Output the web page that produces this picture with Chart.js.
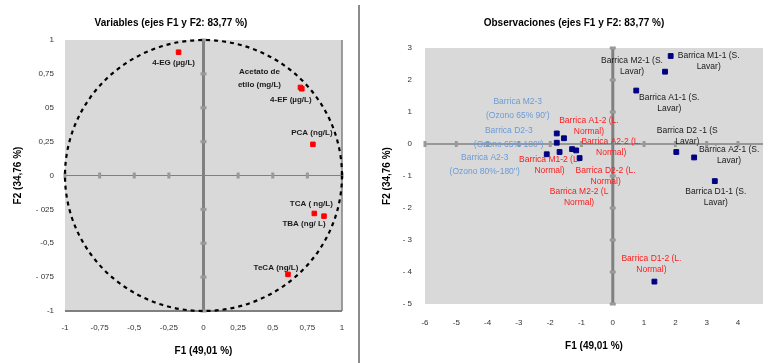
<!DOCTYPE html>
<html>
<head>
<meta charset="utf-8">
<script src="https://cdn.jsdelivr.net/npm/chart.js@4.4.1/dist/chart.umd.min.js"></script>
<style>
  body { margin: 0; background: #fff; width: 768px; height: 363px; overflow: hidden; position: relative; }
  .box { position: absolute; top: 0; height: 363px; }
  #leftBox { left: 0; width: 358px; }
  #rightBox { left: 380px; width: 388px; }
  #divider { position: absolute; left: 358px; top: 5px; width: 2px; height: 358px; background: #8c8c8c; }
</style>
</head>
<body>
<div id="leftBox" class="box"><canvas id="varChart"></canvas></div>
<div id="divider"></div>
<div id="rightBox" class="box"><canvas id="obsChart"></canvas></div>
<script>
// ----- DATA: variables (correlation circle) -----
const varNames = [['4-EG (µg/L)'], ['Acetato de', 'etilo (mg/L)'], ['4-EF (µg/L)'], ['PCA (ng/L)'],
  ['TCA ( ng/L)'], ['TBA (ng/ L)'], ['TeCA (ng/L)']];
const varF1 = [-0.18, 0.70, 0.71, 0.79, 0.80, 0.87, 0.61];
const varF2 = [0.91, 0.65, 0.64, 0.23, -0.28, -0.30, -0.73];
const varXTicks = ['-1', '-0,75', '-0,5', '-0,25', '0', '0,25', '0,5', '0,75', '1'];
const varYTicks = ['-1', '- 075', '-0,5', '- 025', '0', '0,25', '05', '0,75', '1'];

// ----- DATA: observations -----
const obsNames = [
  ['Barrica A1-1 (S.', 'Lavar)'], ['Barrica A2-1 (S.', 'Lavar)'], ['Barrica D1-1 (S.', 'Lavar)'],
  ['Barrica D2 -1 (S', 'Lavar)'], ['Barrica M1-1 (S.', 'Lavar)'], ['Barrica M2-1 (S.', 'Lavar)'],
  ['Barrica A1-2 (L.', 'Normal)'], ['Barrica A2-2 (L.', 'Normal)'], ['Barrica D1-2 (L.', 'Normal)'],
  ['Barrica D2-2 (L.', 'Normal)'], ['Barrica M1-2 (L.', 'Normal)'], ['Barrica M2-2 (L', 'Normal)'],
  ['Barrica A2-3', "(Ozono 80%-180'')"], ['Barrica D2-3', "(Ozono 65% 180'')"], ['Barrica M2-3', "(Ozono 65% 90')"]
];
const obsGroup = ['lavar', 'lavar', 'lavar', 'lavar', 'lavar', 'lavar',
  'normal', 'normal', 'normal', 'normal', 'normal', 'normal', 'ozono', 'ozono', 'ozono'];
const obsF1 = [0.75, 2.60, 3.26, 2.03, 1.85, 1.67, -1.56, -1.17, 1.33, -1.06, -1.70, -1.30, -2.11, -1.79, -1.79];
const obsF2 = [1.67, -0.42, -1.16, -0.25, 2.75, 2.26, 0.18, -0.20, -4.30, -0.44, -0.25, -0.16, -0.32, 0.04, 0.33];

// ----- LAYOUT (label offsets in px from the point, first line centre) -----
const varLabelOffsets = [[-5, 11], [-41, -16], [-11, 11], [-1, -12], [-3, -10], [-20, 8], [-12, -7]];
const obsLabelOffsets = [[33, 7], [35, -8], [1, 11], [11, -21], [38, 0], [-33, -11],
  [25, -18], [35, -9], [-3, -23], [26, 13], [-10, 8], [7, 43], [-62, 3], [-48, -12], [-39, -32]];
const groupColors = { lavar: '#1a1a1a', normal: '#ff1a1a', ozono: '#6a9bd8' };
const groupLineGap = { lavar: 11, normal: 11, ozono: 14 };

const FONT = '"Liberation Sans", Arial, sans-serif';

// background, zero axes, circle and point labels
const pcaDecor = {
  id: 'pcaDecor',
  beforeDraw(chart, args, opts) {
    const { ctx, chartArea: a } = chart;
    ctx.save();
    ctx.fillStyle = '#d9d9d9';
    ctx.fillRect(a.left, a.top, a.right - a.left, a.bottom - a.top);
    ctx.restore();
  },
  beforeDatasetsDraw(chart, args, opts) {
    const { ctx, chartArea: a, scales: { x, y } } = chart;
    const x0 = x.getPixelForValue(0), y0 = y.getPixelForValue(0);
    ctx.save();
    ctx.strokeStyle = '#808080';
    if (opts.frame) {
      ctx.lineWidth = 2;
      ctx.beginPath(); ctx.moveTo(a.left, a.bottom); ctx.lineTo(a.right, a.bottom); ctx.stroke();
      ctx.lineWidth = 1.5;
      ctx.beginPath(); ctx.moveTo(a.right, a.top); ctx.lineTo(a.right, a.bottom); ctx.stroke();
    }
    ctx.lineWidth = opts.hWidth;
    ctx.beginPath(); ctx.moveTo(a.left, y0); ctx.lineTo(a.right, y0); ctx.stroke();
    ctx.lineWidth = opts.vWidth;
    ctx.beginPath(); ctx.moveTo(x0, a.top); ctx.lineTo(x0, a.bottom); ctx.stroke();
    // small tick marks on the zero axes
    ctx.fillStyle = '#999';
    x.ticks.forEach(t => {
      if (t.value === 0) return;
      ctx.fillRect(x.getPixelForValue(t.value) - 1.5, y0 - 3, 3, 6);
    });
    y.ticks.forEach(t => {
      if (t.value === 0) return;
      ctx.fillRect(x0 - 3, y.getPixelForValue(t.value) - 1.5, 6, 3);
    });
    if (opts.circle) {
      ctx.strokeStyle = '#000';
      ctx.lineWidth = 2.2;
      ctx.setLineDash([4, 4]);
      ctx.beginPath();
      ctx.ellipse(x0, y0, x.getPixelForValue(1) - x0, y0 - y.getPixelForValue(1), 0, 0, Math.PI * 2);
      ctx.stroke();
    }
    ctx.restore();
  },
  afterDatasetsDraw(chart, args, opts) {
    const { ctx } = chart;
    const meta = chart.getDatasetMeta(0);
    ctx.save();
    ctx.font = opts.font;
    ctx.textAlign = 'center';
    ctx.textBaseline = 'middle';
    meta.data.forEach((pt, i) => {
      const [dx, dy] = opts.offsets[i];
      ctx.fillStyle = opts.colors[i];
      opts.texts[i].forEach((line, k) => {
        ctx.fillText(line, pt.x + dx, pt.y + dy + k * opts.gaps[i]);
      });
    });
    ctx.restore();
  }
};

function axisTitle(text, pad) {
  return { display: true, text: text, color: '#000', font: { family: FONT, size: 10, weight: 'bold' }, padding: pad };
}
const tickFont = { family: FONT, size: 8 };
const noGrid = { display: false, drawTicks: false };

// ----- LEFT: correlation circle -----
new Chart(document.getElementById('varChart'), {
  type: 'scatter',
  data: {
    datasets: [{
      data: varF1.map((v, i) => ({ x: v, y: varF2[i] })),
      backgroundColor: '#ff0000',
      borderColor: '#ff0000',
      pointStyle: 'rect',
      pointRadius: 3.2
    }]
  },
  options: {
    responsive: true,
    maintainAspectRatio: false,
    animation: false,
    layout: { padding: { left: 0, right: 16, top: 0, bottom: 0 } },
    plugins: {
      legend: { display: false },
      tooltip: { enabled: false },
      title: {
        display: true,
        text: 'Variables (ejes F1 y F2: 83,77 %)',
        color: '#000',
        font: { family: FONT, size: 10, weight: 'bold' },
        padding: { top: 17, bottom: 11 }
      },
      pcaDecor: {
        circle: true, frame: true, hWidth: 1, vWidth: 3,
        font: 'bold 8px ' + FONT,
        texts: varNames,
        offsets: varLabelOffsets,
        colors: varNames.map(() => '#1a1a1a'),
        gaps: varNames.map(() => 13)
      }
    },
    scales: {
      x: {
        min: -1, max: 1,
        grid: noGrid, border: { display: false },
        ticks: { stepSize: 0.25, padding: 12, color: '#333', font: tickFont, maxRotation: 0,
          callback: (v, i) => varXTicks[i] },
        title: axisTitle('F1 (49,01 %)', { top: 0, bottom: 6 }),
        afterFit: s => { s.height = 52; }
      },
      y: {
        min: -1, max: 1,
        grid: noGrid, border: { display: false },
        ticks: { stepSize: 0.25, padding: 11, color: '#333', font: tickFont,
          callback: (v, i) => varYTicks[i] },
        title: axisTitle('F2 (34,76 %)', { top: 12, bottom: 0 }),
        afterFit: s => { s.width = 65; }
      }
    }
  },
  plugins: [pcaDecor]
});

// ----- RIGHT: observations -----
new Chart(document.getElementById('obsChart'), {
  type: 'scatter',
  data: {
    datasets: [{
      data: obsF1.map((v, i) => ({ x: v, y: obsF2[i] })),
      backgroundColor: '#000080',
      borderColor: '#000080',
      pointStyle: 'rect',
      pointRadius: 3.4
    }]
  },
  options: {
    responsive: true,
    maintainAspectRatio: false,
    animation: false,
    layout: { padding: 0 },
    plugins: {
      legend: { display: false },
      tooltip: { enabled: false },
      title: {
        display: true,
        text: 'Observaciones (ejes F1 y F2: 83,77 %)',
        color: '#000',
        font: { family: FONT, size: 10, weight: 'bold' },
        padding: { top: 17, bottom: 19 }
      },
      pcaDecor: {
        circle: false, frame: false, hWidth: 1.5, vWidth: 3,
        font: '8.5px ' + FONT,
        texts: obsNames,
        offsets: obsLabelOffsets,
        colors: obsGroup.map(g => groupColors[g]),
        gaps: obsGroup.map(g => groupLineGap[g])
      }
    },
    scales: {
      x: {
        min: -6, max: 4.8,
        grid: noGrid, border: { display: false },
        ticks: { stepSize: 1, includeBounds: false, padding: 14, color: '#333', font: tickFont, maxRotation: 0 },
        title: axisTitle('F1 (49,01 %)', { top: 0, bottom: 11 }),
        afterFit: s => { s.height = 59; }
      },
      y: {
        min: -5, max: 3,
        grid: noGrid, border: { display: false },
        ticks: { stepSize: 1, padding: 13, color: '#333', font: tickFont,
          callback: v => (v < 0 ? '- ' + Math.abs(v) : String(v)) },
        title: axisTitle('F2 (34,76 %)', { top: 1, bottom: 0 }),
        afterFit: s => { s.width = 45; }
      }
    }
  },
  plugins: [pcaDecor]
});
</script>
</body>
</html>
